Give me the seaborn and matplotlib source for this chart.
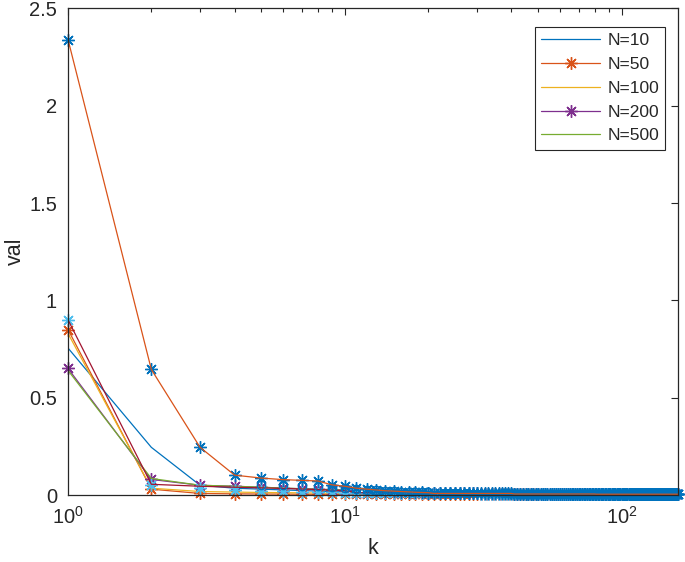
import numpy as np
import pandas as pd
import seaborn as sns
import matplotlib
matplotlib.use("Agg")
import matplotlib.pyplot as plt
from matplotlib.lines import Line2D

sns.set_style("white")
plt.rcParams["font.family"] = ["Liberation Sans", "DejaVu Sans"]
plt.rcParams["mathtext.fontset"] = "custom"
plt.rcParams["mathtext.rm"] = "Liberation Sans"
plt.rcParams["mathtext.it"] = "Liberation Sans:italic"

# matlab default colour order
c_blue, c_orange, c_yellow = "#0072BD", "#D95319", "#EDB120"
c_purple, c_green, c_lblue, c_maroon = "#7E2F8E", "#77AC30", "#4DBEEE", "#A2142F"

kmax = 160

# values (head = first points, tail = near-zero plateau)
n10 = [0.755, 0.245, 0.05, 0.035, 0.03, 0.026, 0.023, 0.02, 0.018, 0.016]
n50 = [0.85, 0.03, 0.008, 0.006, 0.005, 0.005, 0.004, 0.004, 0.004, 0.003] + [0.003] * 40
n100 = [0.83, 0.035, 0.018, 0.015, 0.013, 0.012, 0.011, 0.01, 0.009, 0.008] + [0.006] * 20 + [0.004] * 70
n200 = [0.65, 0.08, 0.05, 0.045, 0.04, 0.035, 0.032, 0.03, 0.028, 0.025] + [0.012] * 20 + [0.004] * 130
n500 = [0.64, 0.085, 0.05, 0.045, 0.04, 0.036, 0.033, 0.03, 0.027, 0.024] + [0.012] * 20 + [0.004] * 130
lblue = [0.9, 0.05, 0.035, 0.025, 0.022, 0.02, 0.018, 0.016, 0.014, 0.012] + [0.008] * 20 + [0.003] * 130
maroon = [0.9, 0.055, 0.045, 0.04, 0.037, 0.034, 0.031, 0.028, 0.025, 0.022] + [0.012] * 20 + [0.004] * 130
top = [2.34, 0.645, 0.245, 0.102, 0.087, 0.079, 0.075, 0.072, 0.052, 0.045,
       0.035, 0.03, 0.026, 0.022, 0.02, 0.018, 0.016, 0.014, 0.013, 0.012] + [0.008] * 20 + [0.005] * 40 + [0.004] * 80
circ_k = [5, 6, 7, 8, 9, 10, 11, 12, 13, 14, 15, 16, 17, 18, 19, 20]
circ = [0.052, 0.05, 0.048, 0.047, 0.04, 0.035, 0.03, 0.027, 0.024, 0.022, 0.02, 0.018, 0.016, 0.015, 0.014, 0.013]

labels = ["N=10", "N=50", "N=100", "N=200", "N=500"]

ast = (8, 2, 0)  # asterisk, like matlab '*'


def frame(vals):
    return pd.DataFrame({"k": np.arange(1, len(vals) + 1), "val": vals})


fig, ax = plt.subplots(figsize=(6.85, 5.62), dpi=100)
fig.subplots_adjust(left=0.0993, right=0.9898, bottom=0.1192, top=0.985)

lw = 0.9
kw = dict(ax=ax, x="k", y="val", estimator=None, sort=False, legend=False)


def stars(c):
    return dict(marker=ast, ms=9, mew=1, mec=c, clip_on=False)


sns.lineplot(data=frame(n10), color=c_blue, lw=lw, **kw)
sns.lineplot(data=frame(n50), color=c_orange, lw=lw, **stars(c_orange), **kw)
sns.lineplot(data=frame(n100), color=c_yellow, lw=lw, **kw)
sns.lineplot(data=frame(n200), color=c_purple, lw=lw, **stars(c_purple), **kw)
sns.lineplot(data=frame(n500), color=c_green, lw=lw, **kw)
sns.lineplot(data=frame(lblue), color=c_lblue, lw=0, **stars(c_lblue), **kw)
sns.lineplot(data=frame(maroon), color=c_maroon, lw=lw, **kw)
sns.lineplot(data=pd.DataFrame({"k": circ_k, "val": circ}), color=c_blue, lw=0, marker="o",
             ms=6, mfc="none", mec=c_blue, mew=1, **kw)
sns.lineplot(data=frame(top), color=c_blue, lw=0, **stars(c_blue), **kw)
sns.lineplot(data=frame(top), color=c_orange, lw=lw, **kw)

ax.set_xscale("log")
ax.set_xlim(1, kmax)
ax.set_ylim(0, 2.5)
ax.set_yticks([0, 0.5, 1, 1.5, 2, 2.5])
ax.set_yticklabels(["0", "0.5", "1", "1.5", "2", "2.5"])

ax.tick_params(which="both", direction="in", top=True, right=True, labelsize=14.5, colors="#262626")
ax.tick_params(which="major", length=5, width=0.8, pad=8)
ax.tick_params(which="minor", length=3, width=0.8)
for sp in ax.spines.values():
    sp.set_color("#262626")
    sp.set_linewidth(0.9)

ax.set_xlabel("k", fontsize=15.5, color="#262626", labelpad=7)
ax.set_ylabel("val", fontsize=15.5, color="#262626", labelpad=2)

colors = [c_blue, c_orange, c_yellow, c_purple, c_green]
markers = [None, ast, None, ast, None]
handles = [Line2D([], [], color=c, lw=lw, marker=m, ms=9, mew=1, mec=c) for c, m in zip(colors, markers)]
leg = ax.legend(handles, labels, loc="upper right", bbox_to_anchor=(0.979, 0.962), borderaxespad=0,
                fontsize=12.5, handlelength=3.4, handletextpad=0.4, labelspacing=0.5, borderpad=0.35,
                fancybox=False, framealpha=1, edgecolor="#262626")
leg.get_frame().set_linewidth(0.8)

fig.savefig("out.png", dpi=100)
